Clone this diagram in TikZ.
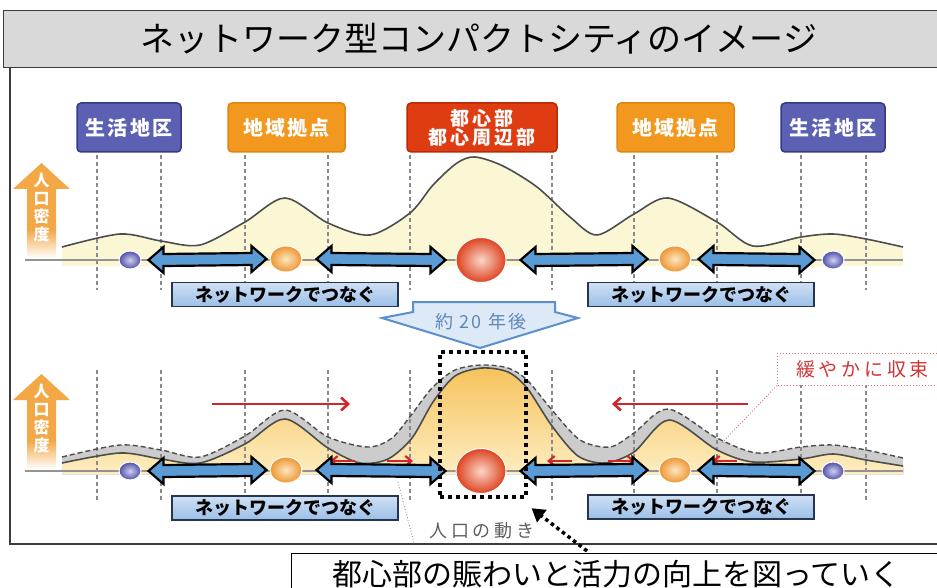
\documentclass[tikz,border=0pt]{standalone}
\usepackage{fontspec}
\newfontfamily\jp{Noto Sans CJK JP}
\usetikzlibrary{arrows.meta,calc,shapes.geometric}
\definecolor{titleC}{HTML}{D9D9D9}
\definecolor{frameC}{HTML}{3C3C3C}
\definecolor{lblBlue}{HTML}{5B60B3}
\definecolor{lblBlueD}{HTML}{363A85}
\definecolor{lblOrg}{HTML}{F2981F}
\definecolor{lblOrgD}{HTML}{E0860F}
\definecolor{lblRed}{HTML}{E03C12}
\definecolor{lblRedD}{HTML}{B82A08}
\definecolor{ylw}{HTML}{FBF6D4}
\definecolor{curveC}{HTML}{4D4D4D}
\definecolor{dashC}{HTML}{8A8A8A}
\definecolor{netTop}{HTML}{CFE0F4}
\definecolor{netBot}{HTML}{9BBFE8}
\definecolor{netDraw}{HTML}{263550}
\definecolor{arrBlue}{HTML}{5B9BD5}
\definecolor{redA}{HTML}{D3242A}
\definecolor{bandC}{HTML}{CCCCCC}
\definecolor{orgTop}{HTML}{F6C35C}
\definecolor{orgBot}{HTML}{FDEDC0}
\definecolor{arrowOrg}{HTML}{F3A745}
\definecolor{yrsFill}{HTML}{DDE9F6}
\definecolor{yrsDraw}{HTML}{5A8FD0}
\definecolor{yrsText}{HTML}{5D87BB}
\definecolor{ballBin}{HTML}{D0D0F2}
\definecolor{ballBout}{HTML}{4E50A6}
\definecolor{ballOin}{HTML}{FDE6C0}
\definecolor{ballOout}{HTML}{EE9530}
\definecolor{ballRin}{HTML}{FBD6C8}
\definecolor{ballRout}{HTML}{DD4320}
\definecolor{grayTxt}{HTML}{5E5E5E}
\definecolor{redTxt}{HTML}{D03434}

\newcommand{\netarrow}[4]{%
  \draw[netarr] let \p1=($(#1.east)+(#3,0)$), \p2=($(#2.west)-(#4,0)$) in
    (\x1,\y1) -- (\x1+15pt,\y1+13pt) -- (\x1+15pt,\y1+6pt) -- (\x2-15pt,\y2+6pt)
    -- (\x2-15pt,\y2+13pt) -- (\x2,\y2) -- (\x2-15pt,\y2-13pt) -- (\x2-15pt,\y2-6pt)
    -- (\x1+15pt,\y1-6pt) -- (\x1+15pt,\y1-13pt) -- cycle;}

\begin{document}
\begin{tikzpicture}[x=1pt,y=-1pt,
  lbl/.style={rounded corners=4pt, minimum height=49, line width=1.5pt, text=white,
    font={\jp\bfseries\fontsize{20}{22}\selectfont\addfontfeature{LetterSpace=11}}, align=center, inner sep=0},
  netbox/.style={draw=netDraw, line width=1.3pt, top color=netTop, bottom color=netBot,
    minimum width=226, minimum height=24, inner sep=0,
    font={\jp\bfseries\fontsize{18}{18}\selectfont}},
  vdash/.style={dashC, line width=1.1pt, dash pattern=on 4pt off 3pt},
  curve/.style={curveC, line width=1.6pt},
  oldcurve/.style={curveC, line width=1.4pt, dash pattern=on 5pt off 3pt},
  baseln/.style={draw=gray!85, line width=1.5pt},
  netarr/.style={fill=arrBlue, draw=black, line width=2.2pt, line join=miter},
  redarr/.style={redA, line width=2.6pt, -{Straight Barb[length=7pt,width=13pt]}},
  redsm/.style={redA, line width=2.2pt, -{Straight Barb[length=6pt,width=10pt]}},
  ballB/.style={ellipse, inner sep=0, minimum width=22, minimum height=18,
    inner color=ballBin, outer color=ballBout, draw=white, line width=1pt},
  ballO/.style={ellipse, inner sep=0, minimum width=32, minimum height=26,
    inner color=ballOin, outer color=ballOout, draw=white, line width=1pt},
  ballR/.style={ellipse, inner sep=0, minimum width=50, minimum height=45,
    inner color=ballRin, outer color=ballRout, draw=white, line width=1pt},
  poptext/.style={text=white, align=center, inner sep=0, font={\jp\bfseries\fontsize{16}{18}\selectfont}}
]
\useasboundingbox (0,0) rectangle (937,588);

% ---------- title and frame ----------
\node[draw=frameC, fill=titleC, line width=1.3pt, minimum width=950, minimum height=57,
  anchor=north west, inner sep=0, font={\jp\fontsize{34}{34}\selectfont}] (title) at (3,10)
  {ネットワーク型コンパクトシティのイメージ};
\draw[frameC, line width=1.3pt] (10,67) -- (10,544) -- (960,544);

% ---------- upper panel ----------
\fill[ylw] (62,266) -- plot[smooth] coordinates {(62,247) (120,234) (161,241) (200,245) (245,222) (285,198) (328,223) (370,235) (410,213) (433,185) (457,163) (475,157) (503,166) (537,187) (570,217) (597,235) (634,214) (668,198) (717,222) (753,246) (801,237) (833,234) (866,239) (903,247)} -- (903,266) -- cycle;

\foreach \xx in {97,161,245,328,410,552,634,717,801,866}
  \draw[vdash] (\xx,155) -- (\xx,290);

\draw[curve] plot[smooth] coordinates {(62,247) (120,234) (161,241) (200,245) (245,222) (285,198) (328,223) (370,235) (410,213) (433,185) (457,163) (475,157) (503,166) (537,187) (570,217) (597,235) (634,214) (668,198) (717,222) (753,246) (801,237) (833,234) (866,239) (903,247)};

% population-density arrow (upper)
\fill[arrowOrg] (27,230) -- (27,189) -- (13,189) -- (41.5,163) -- (70,189) -- (56,189) -- (56,230) -- cycle;
\shade[top color=arrowOrg, bottom color=white] (27,229.5) rectangle (56,258);
\node[poptext] (popU) at (41.5,208) {人\\口\\密\\度};

% labels
\node[lbl, fill=lblBlue, draw=lblBlueD, minimum width=104] (lbl1) at (129,127.5) {生活地区};
\node[lbl, fill=lblOrg, draw=lblOrgD, minimum width=117] (lbl2) at (286.5,127.5) {地域拠点};
\node[lbl, fill=lblRed, draw=lblRedD, minimum width=150, font={\jp\bfseries\fontsize{19}{19}\selectfont\addfontfeature{LetterSpace=16}}] (lbl3) at (482,127.5) {都心部\\都心周辺部};
\node[lbl, fill=lblOrg, draw=lblOrgD, minimum width=117] (lbl4) at (675.5,127.5) {地域拠点};
\node[lbl, fill=lblBlue, draw=lblBlueD, minimum width=104] (lbl5) at (833,127.5) {生活地区};

% baseline and centres
\draw[baseln] (25,260) -- (903,260);
\node[ballB] (b1) at (130,260) {};
\node[ballO] (o1) at (286,259) {};
\node[ballR] (r1) at (481,260) {};
\node[ballO] (o2) at (675,259) {};
\node[ballB] (b2) at (833,260) {};

\netarrow{b1}{o1}{7}{3}
\netarrow{o1}{r1}{14}{10}
\netarrow{r1}{o2}{14}{11}
\netarrow{o2}{b2}{7}{7}

\node[netbox] (net1) at (285,294.5) {ネットワークでつなぐ};
\node[netbox] (net2) at (701,294.5) {ネットワークでつなぐ};

% ---------- 20 years later arrow ----------
\draw[fill=yrsFill, draw=yrsDraw, line width=2pt, line join=miter]
  (413,302) -- (555,302) -- (555,312) -- (578,318) -- (480,348) -- (382,318) -- (413,312) -- cycle;
\node[text=yrsText, font={\jp\fontsize{18}{18}\selectfont\addfontfeature{LetterSpace=12}}] (yrs) at (481,322) {約 20 年後};

% ---------- lower panel ----------
\fill[bandC] plot[smooth] coordinates {(62,457) (120,445) (161,450) (200,457) (245,436) (285,410) (328,437) (368,447) (392,438) (412,414) (432,388) (455,370) (482,365) (508,368) (527,380) (552,410) (580,440) (610,447) (634,433) (668,409) (717,438) (757,453) (801,447) (833,445) (866,450) (903,458)}
  -- plot[smooth] coordinates {(903,466) (866,460) (833,454) (801,459) (753,462) (717,450) (669,420) (634,452) (605,463) (578,456) (552,426) (527,388) (508,372) (482,368) (455,376) (433,402) (412,438) (388,459) (360,463) (328,448) (285,419) (245,444) (200,463) (161,459) (120,453) (62,463)} -- cycle;

\fill[top color=orgTop, bottom color=orgBot] (62,474) -- plot[smooth] coordinates {(62,463) (120,453) (161,459) (200,463) (245,444) (285,419) (328,448) (360,463) (388,459) (412,438) (433,402) (455,376) (482,368) (508,372) (527,388) (552,426) (578,456) (605,463) (634,452) (669,420) (717,450) (753,462) (801,459) (833,454) (866,460) (903,466)} -- (903,474) -- cycle;

\foreach \xx in {97,161,245,328,410,552,634,717,801,866}
  \draw[vdash] (\xx,370) -- (\xx,500);

\draw[oldcurve] plot[smooth] coordinates {(62,457) (120,445) (161,450) (200,457) (245,436) (285,410) (328,437) (368,447) (392,438) (412,414) (432,388) (455,370) (482,365) (508,368) (527,380) (552,410) (580,440) (610,447) (634,433) (668,409) (717,438) (757,453) (801,447) (833,445) (866,450) (903,458)};
\draw[curve] plot[smooth] coordinates {(62,463) (120,453) (161,459) (200,463) (245,444) (285,419) (328,448) (360,463) (388,459) (412,438) (433,402) (455,376) (482,368) (508,372) (527,388) (552,426) (578,456) (605,463) (634,452) (669,420) (717,450) (753,462) (801,459) (833,454) (866,460) (903,466)};

% population-density arrow (lower)
\fill[arrowOrg] (27,441) -- (27,400) -- (13,400) -- (41.5,374) -- (70,400) -- (56,400) -- (56,441) -- cycle;
\shade[top color=arrowOrg, bottom color=white] (27,440.5) rectangle (56,469);
\node[poptext] (popL) at (41.5,419) {人\\口\\密\\度};

% movement arrows
\draw[redarr] (212,404) -- (350,404);
\draw[redarr] (748,404) -- (612,404);
\draw[redsm] (355,461) -- (330,461);
\draw[redsm] (387,461) -- (413,461);
\draw[redsm] (572,461) -- (547,461);
\draw[redsm] (608,461) -- (635,461);
\draw[redsm] (737,461) -- (712,461);

% baseline and centres
\draw[baseln] (25,471) -- (903,471);
\node[ballB] (b3) at (130,471) {};
\node[ballO] (o3) at (286,470) {};
\node[ballR] (r2) at (481,471) {};
\node[ballO] (o4) at (675,470) {};
\node[ballB] (b4) at (833,471) {};

\netarrow{b3}{o3}{7}{3}
\netarrow{o3}{r2}{14}{10}
\netarrow{r2}{o4}{14}{11}
\netarrow{o4}{b4}{7}{7}

\node[netbox] (net3) at (285,508) {ネットワークでつなぐ};
\node[netbox] (net4) at (701,507) {ネットワークでつなぐ};

% converge label
\node[draw=redTxt!70, dotted, line width=1pt, fill=white, minimum width=170, minimum height=32,
  anchor=west, inner sep=0, text=redTxt, font={\jp\fontsize{19}{19}\selectfont\addfontfeature{LetterSpace=20}}] (conv) at (777,369) {緩やかに収束};
\coordinate (convp) at (722,443);
\draw[redTxt!70, dotted, line width=0.9pt] (conv.south west) -- (convp);

% movement label
\node[text=grayTxt, font={\jp\fontsize{18}{18}\selectfont\addfontfeature{LetterSpace=22}}, inner sep=0] (mv) at (482,531) {人口の動き};
\coordinate (mvp) at (398,482);
\coordinate (mvq) at (414,543);
\draw[gray, dotted, line width=0.8pt] (mvp) -- (mvq);

% focus box
\node[draw=black, line width=4pt, dash pattern=on 4pt off 4pt, minimum width=86, minimum height=145, inner sep=0] (focus) at (483,424.5) {};

% goal box
\node[draw=black, line width=1.2pt, fill=white, minimum width=650, minimum height=42,
  anchor=north west, inner sep=0, font={\jp\fontsize{30}{30}\selectfont}] (goal) at (291,553)
  {都心部の賑わいと活力の向上を図っていく};
\coordinate (goalp) at (587,551);
\draw[black, line width=3.5pt, dash pattern=on 3.5pt off 3.5pt, -{Triangle[length=13pt,width=15pt]}, shorten >=2pt]
  (goalp) -- ($(focus.south east)+(2,8)$);
\end{tikzpicture}
\end{document}
